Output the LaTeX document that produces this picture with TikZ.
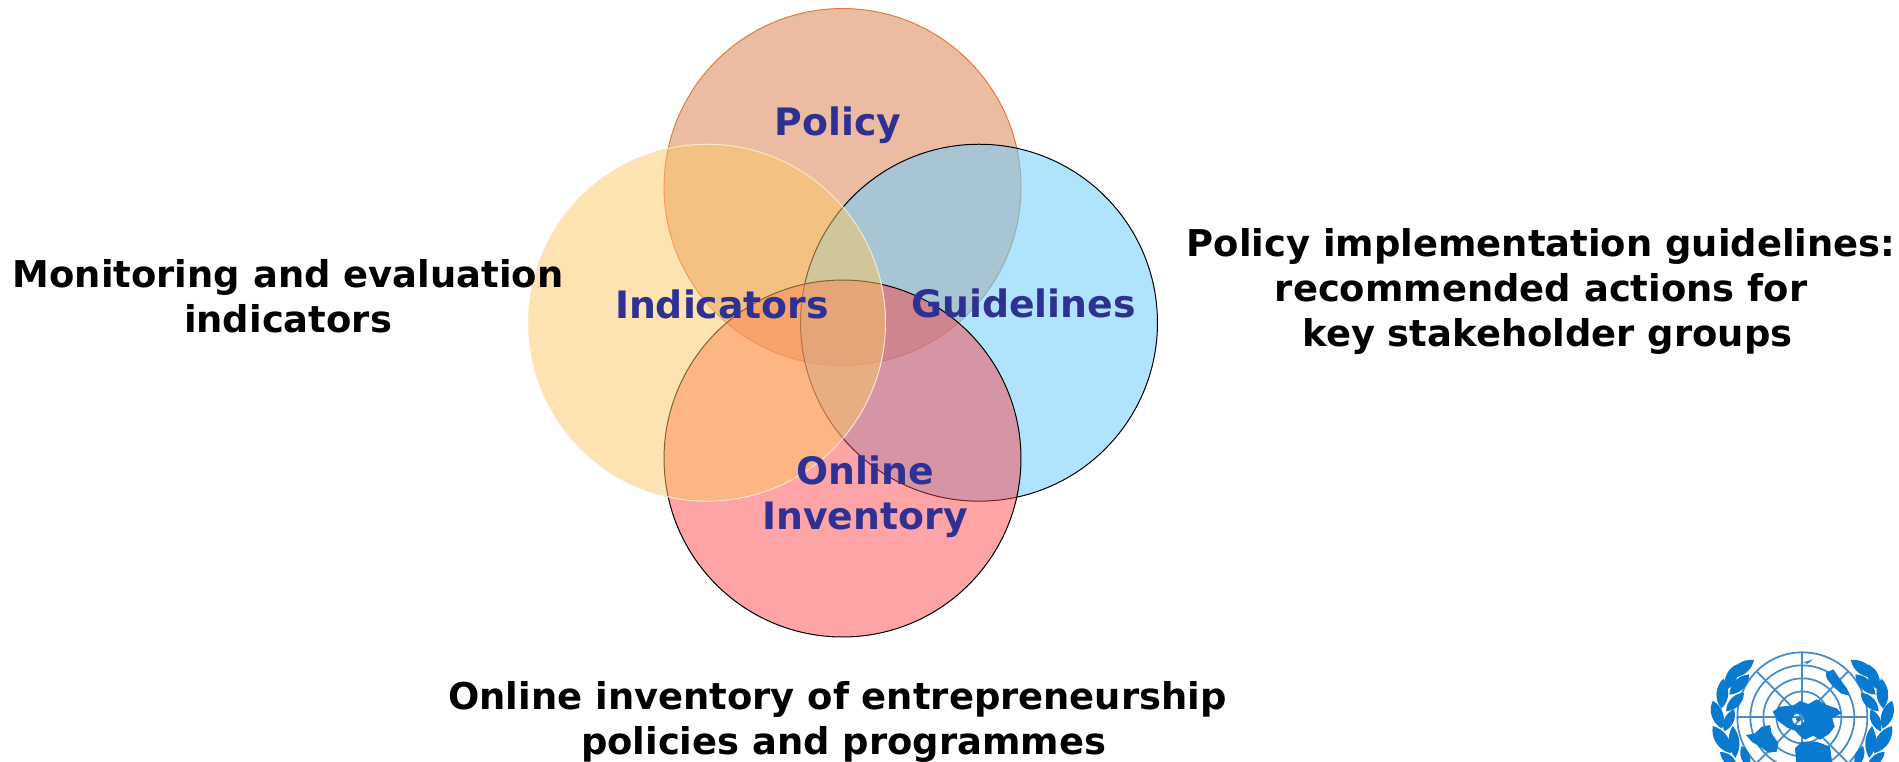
\documentclass[tikz,border=0pt]{standalone}
\usepackage{fontspec}
\setmainfont{DejaVu Sans}
\definecolor{policyfill}{RGB}{207,87,22}
\definecolor{policyedge}{RGB}{224,123,69}
\definecolor{guidefill}{RGB}{111,206,253}
\definecolor{onlinefill}{RGB}{255,61,66}
\definecolor{indicfill}{RGB}{251,199,99}
\definecolor{indicedge}{RGB}{245,232,205}
\definecolor{navytext}{RGB}{46,49,146}
\definecolor{unblue}{RGB}{10,122,208}
\definecolor{unline}{RGB}{70,140,200}
\tikzset{
	venn/.style={circle, minimum size=7.14cm, inner sep=0pt, line width=0.2mm},
	venntext/.style={font=\fontsize{21.5}{25.6}\selectfont\bfseries, color=navytext, align=center},
	sidetext/.style={font=\fontsize{21}{25.5}\selectfont\bfseries, color=black, align=center},
	globeline/.style={draw=unline, line width=0.35mm},
	unshape/.style={fill=unblue}
}
\newcommand{\laurelleaves}{
	\fill[unshape] (148,142) to[bend left=42] (222,90) to[bend left=42] (148,142);
	\fill[unshape] (138,180) to[bend left=42] (170,103) to[bend left=42] (138,180);
	\fill[unshape] (148,194) to[bend left=42] (208,133) to[bend left=42] (148,194);
	\fill[unshape] (124,236) to[bend left=42] (130,146) to[bend left=42] (124,236);
	\fill[unshape] (138,244) to[bend left=42] (192,188) to[bend left=42] (138,244);
	\fill[unshape] (126,296) to[bend left=42] (98,212) to[bend left=42] (126,296);
	\fill[unshape] (132,304) to[bend left=42] (162,238) to[bend left=42] (132,304);
	\fill[unshape] (152,370) to[bend left=42] (98,288) to[bend left=42] (152,370);
	\fill[unshape] (166,384) to[bend left=35] (158,288) to[bend left=35] (166,384);
	\fill[unshape] (172,412) to[bend left=42] (120,366) to[bend left=42] (172,412);
	\fill[unshape] (207,412) to[bend left=42] (185,348) to[bend left=42] (207,412);
}
\begin{document}
\begin{tikzpicture}[x=0.02cm,y=-0.02cm]
	\useasboundingbox (0,0) rectangle (1899,761);

	% circles
	\node[venn, fill=policyfill, fill opacity=0.4, draw=policyedge] (policy) at (842.5,187) {};
	\node[venn, fill=guidefill, fill opacity=0.55, draw=black] (guidelines) at (979,322.7) {};
	\node[venn, fill=onlinefill, fill opacity=0.47, draw=black] (online) at (842.5,458.5) {};
	\node[venn, fill=indicfill, fill opacity=0.5, draw=indicedge] (indicators) at (707,322.7) {};

	% circle labels
	\node[venntext] (policylabel) at (838,125) {Policy};
	\node[venntext] (indiclabel) at (722,304) {Indicators};
	\node[venntext] (guidelabel) at (1023.5,303) {Guidelines};
	\node[venntext] (onlinelabel) at (865,496.5) {Online\\Inventory};

	% descriptions
	\node[sidetext] (monitoring) at (288,296.5) {Monitoring and evaluation\\indicators};
	\node[sidetext] (implementation) at (1541,291.5) {Policy implementation guidelines:\\recommended actions for\\\hspace*{0.35em}key stakeholder groups};
	\node[sidetext] (inventory) at (837.5,722) {Online inventory of entrepreneurship\\\hspace*{0.33em}policies and programmes};

	% emblem
	\begin{scope}
	\clip (1680,630) rectangle (1899,761);
	\begin{scope}[shift={(1680,630)},scale=1/3]
	\draw[globeline] (367,262) circle (195);
	\draw[globeline] (367,262) circle (156);
	\draw[globeline] (367,262) circle (117);
	\draw[globeline] (367,262) circle (78);
	\draw[globeline] (367,262) circle (36);
	\draw[globeline] (172,262) -- (562,262);
	\draw[globeline] (367,67) -- (367,457);
	\draw[globeline] (229,124) -- (505,400);
	\draw[globeline] (505,124) -- (229,400);

	\fill[unshape, even odd rule] (278,245) -- (300,230) -- (340,226) -- (360,213) -- (385,222) -- (410,208) -- (440,225) -- (470,235) -- (484,250) -- (457,265) -- (464,290) -- (447,312) -- (420,329) -- (400,317) -- (375,329) -- (362,320) -- (345,302) -- (320,292) -- (293,272) -- cycle (355,268) circle (18);
	\fill[unshape] (355,268) circle (7);
	\fill[unshape] (198,315) -- (225,310) -- (245,290) -- (270,285) -- (275,310) -- (295,340) -- (290,365) -- (265,368) -- (240,350) -- (215,335) -- cycle;
	\fill[unshape] (345,355) -- (365,335) -- (410,335) -- (450,350) -- (458,410) -- (350,410) -- cycle;
	\fill[unshape] (437,128) -- (460,118) -- (475,140) -- (500,175) -- (508,197) -- (482,190) -- (455,165) -- (440,145) -- cycle;
	\fill[unline] (370,97) -- (398,88) -- (390,96) -- (382,102) -- cycle;

	\laurelleaves
	\begin{scope}[shift={(734,0)},xscale=-1]
	\laurelleaves
	\end{scope}
	\end{scope}
	\end{scope}
\end{tikzpicture}
\end{document}
